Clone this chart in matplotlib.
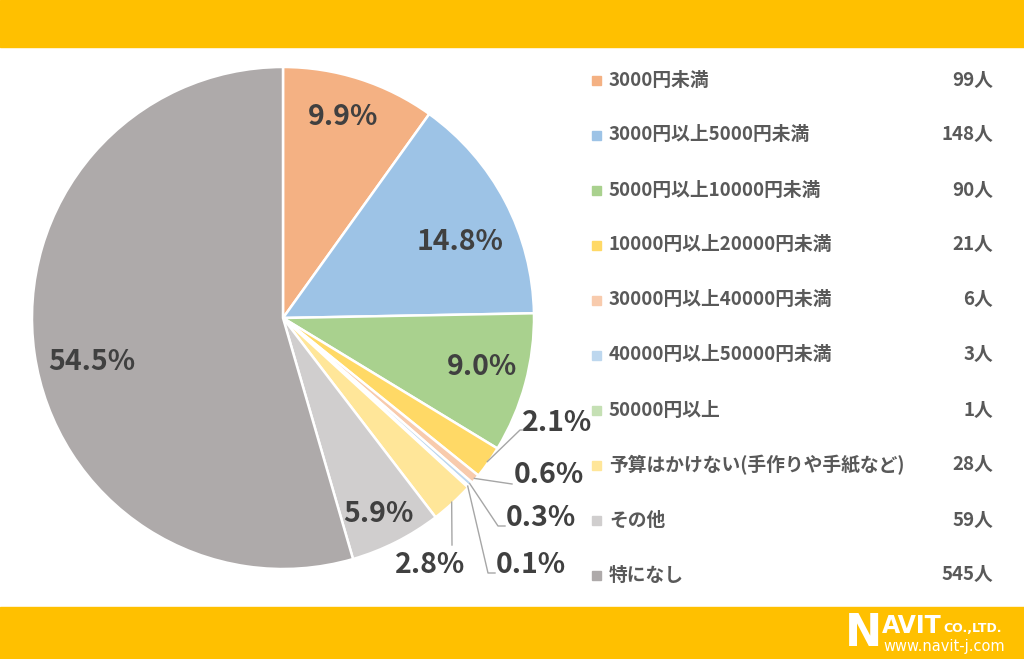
import numpy as np
import matplotlib
matplotlib.use('Agg')
import matplotlib.pyplot as plt
from matplotlib.patches import Rectangle

plt.rcParams['font.family'] = ['Noto Sans CJK JP', 'DejaVu Sans']

# data
categories = ['3000円未満', '3000円以上5000円未満', '5000円以上10000円未満',
              '10000円以上20000円未満', '30000円以上40000円未満', '40000円以上50000円未満',
              '50000円以上', '予算はかけない(手作りや手紙など)', 'その他', '特になし']
counts = [99, 148, 90, 21, 6, 3, 1, 28, 59, 545]
pct_labels = ['9.9%', '14.8%', '9.0%', '2.1%', '0.6%', '0.3%', '0.1%', '2.8%', '5.9%', '54.5%']
colors = ['#F4B183', '#9DC3E6', '#A9D18E', '#FFD966', '#F8CBAD', '#BDD7EE',
          '#C5E0B4', '#FFE699', '#D0CECE', '#AEAAAA']

W, H = 1024, 659
CX, CY, R = 283, 318, 251
BAND = '#FFC000'
TXT = '#404040'
LEG = '#595959'


def px(x, y):
    # pixel (from top-left) -> pie data coords
    return (x - CX) / R, (CY - y) / R


fig = plt.figure(figsize=(W / 100, H / 100), dpi=100)
fig.patch.set_facecolor('white')

# yellow bands
fig.patches.append(Rectangle((0, 1 - 47 / H), 1, 47 / H, transform=fig.transFigure,
                             color=BAND, zorder=0))
fig.patches.append(Rectangle((0, 0), 1, 52 / H, transform=fig.transFigure,
                             color=BAND, zorder=0))

ax = fig.add_axes([(CX - R) / W, (H - CY - R) / H, 2 * R / W, 2 * R / H])
ax.pie(counts, colors=colors, startangle=90, counterclock=False, radius=1,
       wedgeprops=dict(edgecolor='white', linewidth=1.8))
ax.set_xlim(-1, 1)
ax.set_ylim(-1, 1)
ax.set_aspect('equal')
ax.axis('off')

# label layout (pixels): (x, y, ha)
label_pos = [(343, 117, 'center'), (460, 242, 'center'), (482, 367, 'center'),
             (522, 423, 'left'), (514, 475, 'left'), (506, 518, 'left'),
             (496, 565, 'left'), (430, 565, 'center'), (378, 514, 'center'),
             (92, 362, 'center')]
# leader elbows for small slices (pixels)
leaders = {3: [(520, 430), (523, 430)], 4: [(512, 484)], 5: [(498, 526), (505, 526)],
           6: [(488, 573), (495, 573)], 7: [(452, 545)]}

cum = np.cumsum([0] + counts)
total = cum[-1]
for i, (lbl, (x, y, ha)) in enumerate(zip(pct_labels, label_pos)):
    dx, dy = px(x, y)
    ax.text(dx, dy, lbl, ha=ha, va='center', fontsize=20.5, fontweight='bold',
            color=TXT, clip_on=False)
    if i in leaders:
        mid = 90 - 360 * (cum[i] + cum[i + 1]) / 2 / total
        pts = [(np.cos(np.radians(mid)) * 0.995, np.sin(np.radians(mid)) * 0.995)]
        pts += [px(a, b) for a, b in leaders[i]]
        xs, ys = zip(*pts)
        ax.plot(xs, ys, color='#A6A6A6', linewidth=1, clip_on=False)

# legend
for i, (cat, n) in enumerate(zip(categories, counts)):
    y = 1 - (80 + 55 * i) / H
    fig.patches.append(Rectangle((592 / W, y - 5 / H), 9 / W, 9 / H,
                                 transform=fig.transFigure, color=colors[i]))
    fig.text(609 / W, y, cat, ha='left', va='center', fontsize=13.5,
             fontweight='bold', color=LEG)
    fig.text(993 / W, y, f'{n}人', ha='right', va='center', fontsize=13.5,
             fontweight='bold', color=LEG)

# logo
fig.text(845 / W, 1 - 633 / H, 'N', ha='left', va='center', fontsize=32,
         fontweight='heavy', color='white', family='DejaVu Sans')
fig.text(882 / W, 1 - 626 / H, 'AVIT', ha='left', va='center', fontsize=17,
         fontweight='bold', color='white', family='DejaVu Sans')
fig.text(943 / W, 1 - 628 / H, 'CO.,LTD.', ha='left', va='center', fontsize=9,
         fontweight='bold', color='white', family='DejaVu Sans')
fig.text(883 / W, 1 - 647 / H, 'www.navit-j.com', ha='left', va='center', fontsize=10.5,
         color='white', family='DejaVu Sans')

fig.savefig('out.png', dpi=100, facecolor='white')
